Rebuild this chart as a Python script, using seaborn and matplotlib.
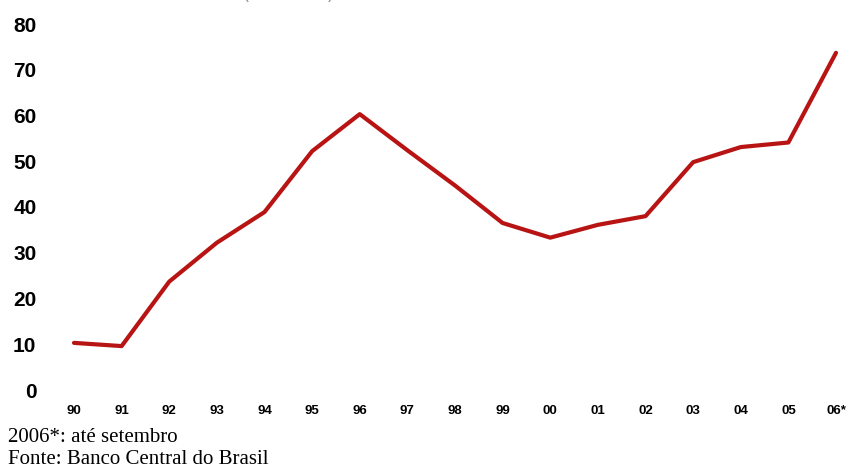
import pandas as pd
import seaborn as sns
import matplotlib.pyplot as plt

# Data
years = ['90', '91', '92', '93', '94', '95', '96', '97', '98', '99',
         '00', '01', '02', '03', '04', '05', '06*']
values = [10.3, 9.6, 23.7, 32.2, 38.9, 52.2, 60.3, 52.4, 44.7, 36.5,
          33.3, 36.1, 38.0, 49.8, 53.1, 54.1, 73.7]

df = pd.DataFrame({'pos': range(len(years)), 'value': values})

sns.set_style('white')
plt.rcParams['font.family'] = ['Liberation Sans', 'DejaVu Sans']

W, H = 850, 467
fig = plt.figure(figsize=(W / 100, H / 100), dpi=100)
ax = fig.add_axes([74 / W, (H - 390) / H, (836 - 74) / W, (390 - 24) / H])

sns.lineplot(data=df, x='pos', y='value', ax=ax, color='#b81414',
             linewidth=3.0, clip_on=False)

ax.set_xlim(0, len(years) - 1)
ax.set_ylim(0, 80)
ax.set_xticks(range(len(years)))
ax.set_xticklabels(years, fontsize=9.5, fontweight='bold')
ax.set_yticks(range(0, 81, 10))
ax.set_yticklabels([str(v) for v in range(0, 81, 10)], fontsize=15, fontweight='bold')
ax.tick_params(axis='x', length=0, pad=11, labelcolor='black')
ax.tick_params(axis='y', length=0, pad=27, labelcolor='black')
ax.set_xlabel('')
ax.set_ylabel('')
sns.despine(ax=ax, left=True, bottom=True)
ax.grid(False)

# Subtitle cut off at the top edge (as in the reference)
fig.text(289 / W, 1 + 1.0 / H, '(US$ bilhões)', ha='center', va='baseline',
         fontsize=10.5, color='#808080', family=['Liberation Sans'])

# Footnotes
fig.text(8 / W, 1 - 437 / H, '2006*: até setembro', ha='left', va='center',
         fontsize=15, family=['Liberation Serif'], color='black')
fig.text(8 / W, 1 - 459 / H, 'Fonte: Banco Central do Brasil', ha='left', va='center',
         fontsize=15, family=['Liberation Serif'], color='black')

fig.savefig('out.png', dpi=100)
